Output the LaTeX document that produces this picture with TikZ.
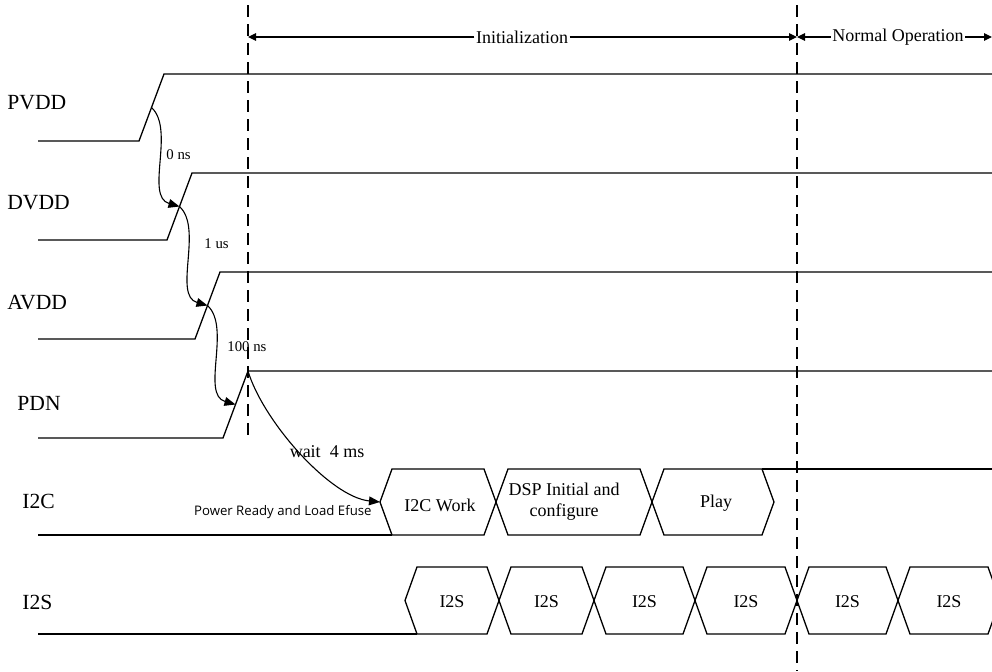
\documentclass[tikz,border=0pt]{standalone}
\usepackage{fontspec}
\setmainfont{Liberation Serif}
\newfontfamily\notefont{Open Sans}
\usepackage{tikz}
\usetikzlibrary{arrows.meta, calc}

\begin{document}
\begin{tikzpicture}[
  x=0.5pt, y=-0.5pt,
  sig/.style={line width=0.65pt},
  phase line/.style={line width=0.65pt, dash pattern=on 6pt off 3.5pt},
  phase arrow/.style={-{Triangle[length=4pt,width=3.8pt]}, line width=0.55pt},
  delay arrow/.style={-{Triangle[length=5.5pt,width=4.4pt]}, line width=0.55pt},
  sig label/.style={anchor=west, inner sep=0pt, font=\fontsize{10.8}{12}\selectfont},
  phase/.style={inner sep=0.6pt, font=\fontsize{9}{10}\selectfont},
  delay/.style={anchor=west, inner sep=0pt, font=\fontsize{7.4}{8}\selectfont},
  busbox/.style={inner sep=0pt, align=center, font=\fontsize{9}{10.5}\selectfont}
]
\useasboundingbox (0,0) rectangle (992,671);
\clip (0,0) rectangle (992,671);

\coordinate (init-top) at (248,5);
\coordinate (init-bot) at (248,440);
\coordinate (run-top) at (797,5);
\coordinate (run-bot) at (797,671);
\draw[phase line] (init-top) -- (init-bot);
\draw[phase line] (run-top) -- (run-bot);

\coordinate (init-l) at (248,37);
\coordinate (init-r) at (797,37);
\coordinate (run-r) at (992,37);
\node[phase] (init) at (522,37) {Initialization};
\node[phase] (normal) at (898,37) {Normal Operation};
\draw[phase arrow] (init.west) -- (init-l);
\draw[phase arrow] (init.east) -- (init-r);
\draw[phase arrow] (normal.west) -- (init-r);
\draw[phase arrow] (normal.east) -- (run-r);

\foreach \name/\lx [count=\i from 0] in {PVDD/7,DVDD/7,AVDD/7,PDN/17} {
  \node[sig label] (\name) at (\lx,103+100*\i) {\name};
  \coordinate (\name-lo) at (139+28*\i,141+99*\i);
  \coordinate (\name-hi) at (164+28*\i,74+99*\i);
  \coordinate (\name-e) at ($(\name-lo)!0.5!(\name-hi)$);
  \draw[sig] (38,141+99*\i) -- (\name-lo) -- (\name-hi) -- (992,74+99*\i);
}

\draw[delay arrow] (PVDD-e) .. controls +(24,22) and +(-35,-10) .. (DVDD-e);
\draw[delay arrow] (DVDD-e) .. controls +(24,22) and +(-35,-10) .. (AVDD-e);
\draw[delay arrow] (AVDD-e) .. controls +(24,22) and +(-35,-10) .. (PDN-e);
\node[delay] (d0) at (166,155) {0 ns};
\node[delay] (d1) at (204,244) {1 us};
\node[delay] (d2) at (227,347) {100 ns};

\node[sig label] (I2C) at (22,501) {I2C};
\node[sig label] (I2S) at (22,602) {I2S};

\coordinate (i2c-start) at (380,502);
\draw[sig] (38,535) -- (392,535);
\foreach \a/\b in {380/496, 496/652, 652/774}
  \draw[sig] (\a,502) -- (\a+12,469) -- (\b-12,469) -- (\b,502) -- (\b-12,535) -- (\a+12,535) -- cycle;
\draw[sig] (762,469) -- (992,469);
\node[busbox] (i2cwork) at (440,505) {I2C Work};
\node[busbox] (dsp) at (564,502) {DSP Initial and\\configure};
\node[busbox] (play) at (716,503) {Play};

\draw[delay arrow] (PDN-hi) .. controls +(15,50) and +(-50,-5) .. (i2c-start);
\node[busbox] (wait) at (327,452) {wait\ \ 4 ms};
\node[anchor=east, inner sep=0pt, font=\notefont\fontsize{6.6}{7}\selectfont] (ready) at (372,512) {Power Ready and Load Efuse};

\draw[sig] (38,634) -- (417,634);
\foreach \a/\b [count=\k] in {405/499, 499/594, 594/695, 695/797, 797/898, 898/1000} {
  \draw[sig] (\a,600.5) -- (\a+12,567) -- (\b-12,567) -- (\b,600.5) -- (\b-12,634) -- (\a+12,634) -- cycle;
  \node[busbox] (i2s-\k) at ({(\a+\b)/2},602) {I2S};
}
\end{tikzpicture}
\end{document}
